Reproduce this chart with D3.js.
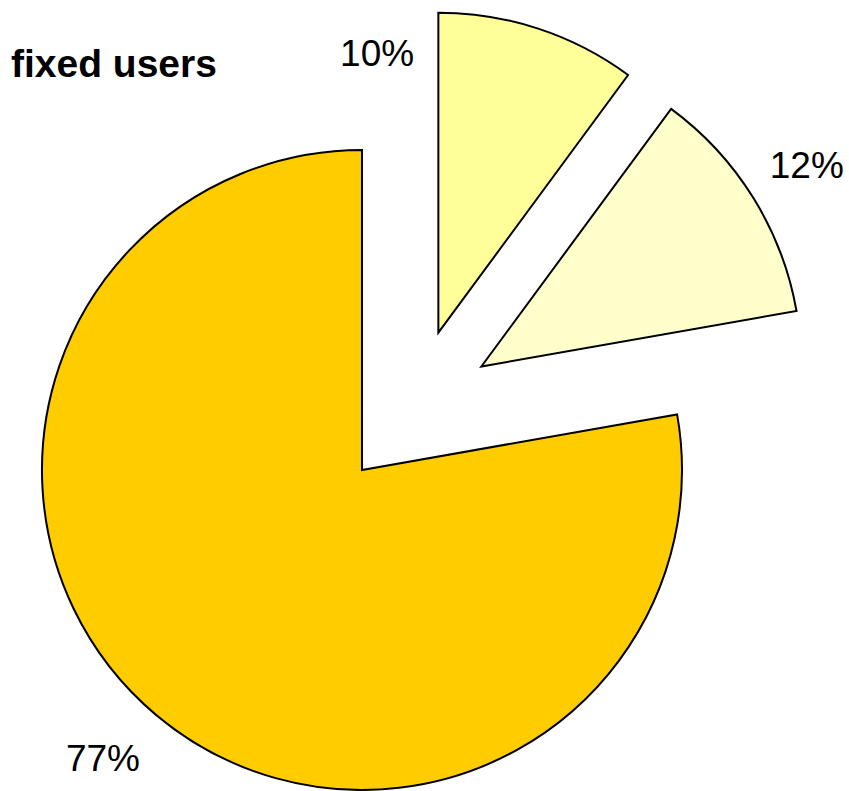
<!DOCTYPE html>
<html>
<head>
<meta charset="utf-8">
<script src="https://cdn.jsdelivr.net/npm/d3@7"></script>
<style>
  html, body { margin: 0; padding: 0; background: #ffffff; }
  svg { display: block; }
</style>
</head>
<body>
<svg id="chart" width="849" height="791"></svg>
<script>
// Share of fixed users, in percent
const categories = ["A", "B", "C"];
const shares = [10, 12, 77];
const sliceColors = ["#FFFF99", "#FFFFCC", "#FFCC00"];
const title = "fixed users";

const width = 849, height = 791;
const cx = 413.4, cy = 408.7;     // pie centre
const radius = 320;
const explode = 80;                // every slice pulled out along its bisector

const svg = d3.select("#chart");

const data = categories.map((c, i) => ({ category: c, value: shares[i], color: sliceColors[i] }));

const pie = d3.pie().sort(null).value(d => d.value).startAngle(0).endAngle(2 * Math.PI);
const arc = d3.arc().innerRadius(0).outerRadius(radius);
const arcs = pie(data);

const polar = (a, r) => [Math.sin(a) * r, -Math.cos(a) * r];

const g = svg.append("g").attr("transform", `translate(${cx},${cy})`);

const slices = g.selectAll("g.slice")
  .data(arcs)
  .join("g")
  .attr("class", "slice")
  .attr("transform", d => {
    const [dx, dy] = polar((d.startAngle + d.endAngle) / 2, explode);
    return `translate(${dx},${dy})`;
  });

slices.append("path")
  .attr("d", arc)
  .attr("fill", d => d.data.color)
  .attr("stroke", "#000")
  .attr("stroke-width", 2)
  .attr("stroke-linejoin", "miter");

// Label placement relative to each slice apex: the small top slice has no
// room above the chart, so its label goes beside its left edge; the others
// sit just outside the rim near the bisector.
const labelPlacement = [
  d => polar(d.startAngle - 0.215, 287),
  d => polar((d.startAngle + d.endAngle) / 2, 383),
  d => polar((d.startAngle + d.endAngle) / 2 + 0.035, 387)
];

slices.append("text")
  .attr("transform", (d, i) => {
    const pos = labelPlacement[i](d);
    return `translate(${pos[0]},${pos[1]})`;
  })
  .attr("text-anchor", "middle")
  .attr("dy", "0.36em")
  .attr("font-family", "Liberation Sans, Arial, sans-serif")
  .attr("font-size", 37)
  .attr("fill", "#000")
  .text(d => d3.format(".0f")(d.data.value) + "%");

svg.append("text")
  .attr("x", 11)
  .attr("y", 77)
  .attr("font-family", "Liberation Sans, Arial, sans-serif")
  .attr("font-size", 39)
  .attr("font-weight", "bold")
  .attr("fill", "#000")
  .text(title);
</script>
</body>
</html>
